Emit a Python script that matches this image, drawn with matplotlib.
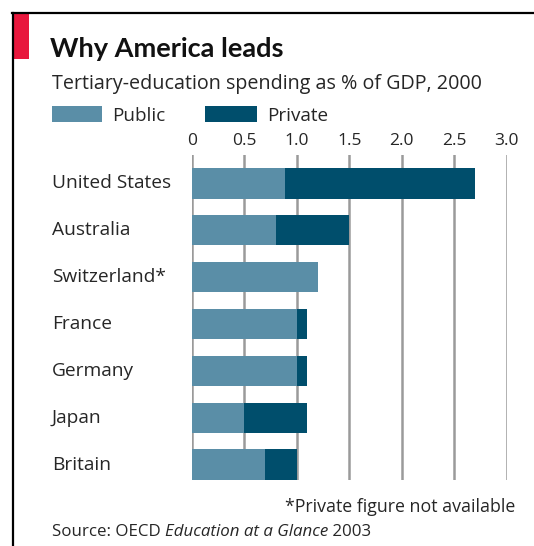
import matplotlib
matplotlib.use("Agg")
import matplotlib.pyplot as plt
from matplotlib.patches import Rectangle
from matplotlib.lines import Line2D
import matplotlib.transforms as mtransforms

# Data: tertiary-education spending as % of GDP, 2000
countries = ["United States", "Australia", "Switzerland*", "France", "Germany", "Japan", "Britain"]
public = [0.89, 0.80, 1.20, 1.00, 1.00, 0.50, 0.70]
private = [1.81, 0.70, 0.00, 0.10, 0.10, 0.60, 0.30]
xticks = [0, 0.5, 1.0, 1.5, 2.0, 2.5, 3.0]
xtick_labels = ["0", "0.5", "1.0", "1.5", "2.0", "2.5", "3.0"]

W, H = 534, 546
DPI = 100
PUBLIC_C = "#5a8ea7"
PRIVATE_C = "#004e6c"
TEXT_C = "#262626"
GRID_C = "#9a9a9a"
FONT = "Open Sans"
TITLE_FONT = "Lato"

fig = plt.figure(figsize=(W / DPI, H / DPI), dpi=DPI)
fig.patch.set_facecolor("white")


def fx(x):
    return x / W


def fy(y):
    return 1 - y / H


# Frame and red tab
fig.add_artist(Line2D([fx(12), fx(W)], [fy(13), fy(13)], color="black", lw=1.6))
fig.add_artist(Line2D([fx(13), fx(13)], [fy(13), fy(H)], color="black", lw=1.6))
fig.add_artist(Rectangle((fx(14), fy(59)), fx(15), 45 / H, color="#e8173d", lw=0))

# Plot area
left, right = 192, 506.7
top, bottom = 155, 480
ax = fig.add_axes([fx(left), fy(bottom), (right - left) / W, (bottom - top) / H])
ax.set_xlim(0, 3.0)
ax.set_ylim(6.326, -0.603)
for s in ax.spines.values():
    s.set_visible(False)

for t in xticks:
    ax.axvline(t, color=GRID_C, lw=1.8, zorder=1)

ypos = list(range(len(countries)))
bar_h = 0.65
ax.barh(ypos, public, height=bar_h, color=PUBLIC_C, zorder=2, lw=0)
ax.barh(ypos, private, left=public, height=bar_h, color=PRIVATE_C, zorder=2, lw=0)

ax.xaxis.tick_top()
ax.set_xticks(xticks)
ax.set_xticklabels(xtick_labels, fontsize=12.5, color=TEXT_C, family=FONT)
ax.tick_params(axis="x", length=0, pad=4)
ax.set_yticks([])

# Country labels, left-aligned in the margin
trans = mtransforms.blended_transform_factory(fig.transFigure, ax.transData)
for i, name in enumerate(countries):
    ax.text(fx(52), i, name, transform=trans, ha="left", va="center",
            fontsize=13.8, color=TEXT_C, family=FONT)

# Title and subtitle
fig.text(fx(50), fy(57), "Why America leads", fontsize=19.5, fontweight="bold",
         color="#111111", family=TITLE_FONT, va="baseline")
fig.text(fx(52), fy(89), "Tertiary-education spending as % of GDP, 2000",
         fontsize=14.2, color=TEXT_C, family=FONT, va="baseline")

# Legend
fig.add_artist(Rectangle((fx(52), fy(122)), 50 / W, 16 / H, color=PUBLIC_C, lw=0))
fig.text(fx(112), fy(121), "Public", fontsize=13.6, color=TEXT_C, family=FONT, va="baseline")
fig.add_artist(Rectangle((fx(205), fy(122)), 52 / W, 16 / H, color=PRIVATE_C, lw=0))
fig.text(fx(267), fy(121), "Private", fontsize=13.6, color=TEXT_C, family=FONT, va="baseline")

# Footnote
fig.text(fx(515), fy(512), "*Private figure not available", fontsize=12.8, color=TEXT_C,
         family=FONT, ha="right", va="baseline")

# Source line with italic publication title
fig.canvas.draw()
renderer = fig.canvas.get_renderer()
x = fx(52)
for part, style in [("Source: OECD ", "normal"), ("Education at a Glance", "italic"), (" 2003", "normal")]:
    t = fig.text(x, fy(536), part, fontsize=12.2, color=TEXT_C, family=FONT,
                 style=style, va="baseline")
    bb = t.get_window_extent(renderer=renderer)
    x = fig.transFigure.inverted().transform((bb.x1, bb.y0))[0]

fig.savefig("out.png", dpi=DPI)
